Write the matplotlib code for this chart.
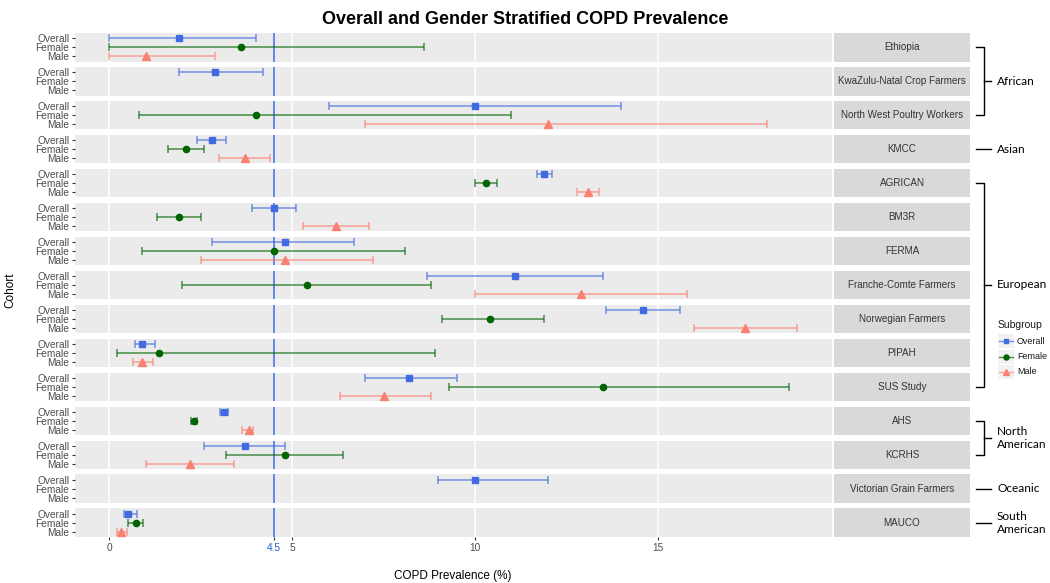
import numpy as np
import matplotlib.pyplot as plt
from matplotlib.lines import Line2D
from matplotlib.patches import Rectangle

plt.rcParams['font.family'] = ['Liberation Sans', 'DejaVu Sans']

nan = np.nan
cohorts = ['Ethiopia', 'KwaZulu-Natal Crop Farmers', 'North West Poultry Workers', 'KMCC',
           'AGRICAN', 'BM3R', 'FERMA', 'Franche-Comte Farmers', 'Norwegian Farmers', 'PIPAH',
           'SUS Study', 'AHS', 'KCRHS', 'Victorian Grain Farmers', 'MAUCO']

overall_est = [1.9, 2.9, 10.0, 2.8, 11.9, 4.5, 4.8, 11.1, 14.6, 0.9, 8.2, 3.13, 3.7, 10.0, 0.52]
overall_lo = [0.0, 1.9, 6.0, 2.4, 11.7, 3.9, 2.8, 8.7, 13.6, 0.7, 7.0, 3.03, 2.6, 9.0, 0.40]
overall_hi = [4.0, 4.2, 14.0, 3.2, 12.1, 5.1, 6.7, 13.5, 15.6, 1.25, 9.5, 3.24, 4.8, 12.0, 0.75]

female_est = [3.6, nan, 4.0, 2.1, 10.3, 1.9, 4.5, 5.4, 10.4, 1.35, 13.5, 2.31, 4.8, nan, 0.72]
female_lo = [0.0, nan, 0.8, 1.6, 10.0, 1.3, 0.9, 2.0, 9.1, 0.2, 9.3, 2.23, 3.2, nan, 0.52]
female_hi = [8.6, nan, 11.0, 2.6, 10.6, 2.5, 8.1, 8.8, 11.9, 8.9, 18.6, 2.41, 6.4, nan, 0.92]

male_est = [1.0, nan, 12.0, 3.7, 13.1, 6.2, 4.8, 12.9, 17.4, 0.88, 7.5, 3.82, 2.2, nan, 0.33]
male_lo = [0.0, nan, 7.0, 3.0, 12.8, 5.3, 2.5, 10.0, 16.0, 0.66, 6.3, 3.62, 1.0, nan, 0.21]
male_hi = [2.9, nan, 18.0, 4.4, 13.4, 7.1, 7.2, 15.8, 18.8, 1.2, 8.8, 3.94, 3.4, nan, 0.48]

subgroups = ['Overall', 'Female', 'Male']
regions = ['African', 'Asian', 'European', 'North\nAmerican', 'Oceanic', 'South\nAmerican']
region_first = [0, 3, 4, 11, 13, 14]
region_last = [2, 3, 10, 12, 13, 14]
reference = 4.5

W, H = 1050, 583
series = [
    (overall_est, overall_lo, overall_hi, '#4169e1', 's', 4.3, 3),
    (female_est, female_lo, female_hi, '#006400', 'o', 4.5, 2),
    (male_est, male_lo, male_hi, '#fa8072', '^', 5.2, 1),
]

fig, axes = plt.subplots(len(cohorts), 1, figsize=(W / 100, H / 100), dpi=100, sharex=True)
fig.subplots_adjust(left=75 / W, right=832 / W, top=1 - 33 / H, bottom=1 - 537 / H, hspace=0.19)

for i, ax in enumerate(axes):
    ax.set_facecolor('#ebebeb')
    for s in ax.spines.values():
        s.set_visible(False)
    for g in [0, 5, 10, 15]:
        ax.axvline(g, color='white', lw=1.1, zorder=0)
    ax.axvline(reference, color='#5b80e8', lw=1.3, zorder=1)
    for est, lo, hi, col, mk, ms, row in series:
        if np.isnan(est[i]):
            continue
        ax.errorbar(est[i], row, xerr=[[est[i] - lo[i]], [hi[i] - est[i]]], fmt='none',
                    ecolor=col, alpha=0.7, capsize=3, elinewidth=1.1, capthick=1.1, zorder=2)
        ax.plot(est[i], row, marker=mk, color=col, ms=ms, ls='none', zorder=3)
    ax.set_ylim(0.4, 3.6)
    ax.set_xlim(-0.94, 19.77)
    ax.set_yticks([3, 2, 1])
    ax.set_yticklabels(subgroups)
    ax.tick_params(axis='y', length=2.5, color='#333333', labelsize=7.3, labelcolor='#4d4d4d', pad=1.5)
    ax.tick_params(axis='x', length=0)
    # facet strip on the right
    ax.add_patch(Rectangle((1.0026, 0), 0.1797, 1, transform=ax.transAxes,
                           facecolor='#d9d9d9', edgecolor='none', clip_on=False))
    ax.text(1.0026 + 0.1797 / 2, 0.5, cohorts[i], transform=ax.transAxes, ha='center',
            va='center', fontsize=7.1, color='#333333')

last = axes[-1]
last.set_xticks([0, 4.5, 5, 10, 15])
last.set_xticklabels(['0', '4.5', '5', '10', '15'])
last.tick_params(axis='x', length=2.5, color='#333333', labelsize=7.3, labelcolor='#4d4d4d', pad=2)
last.get_xticklabels()[1].set_color('#1f66c9')

fig.text(0.5, 1 - 20 / H, 'Overall and Gender Stratified COPD Prevalence',
         ha='center', va='center', fontsize=13, fontweight='bold')
fig.text(453 / W, 1 - 576 / H, 'COPD Prevalence (%)', ha='center', va='center', fontsize=8.5)
fig.text(10 / W, 1 - 290 / H, 'Cohort', ha='center', va='center', fontsize=8.5, rotation=90)

# region brackets
def panel_mid(k):
    p = axes[k].get_position()
    return (p.y0 + p.y1) / 2

for name, a, b in zip(regions, region_first, region_last):
    y0, y1 = panel_mid(a), panel_mid(b)
    ym = (y0 + y1) / 2
    if a == b:
        fig.add_artist(Line2D([976 / W, 991 / W], [ym, ym], color='black', lw=1))
    else:
        fig.add_artist(Line2D([976 / W, 984 / W, 984 / W, 976 / W], [y0, y0, y1, y1],
                              color='black', lw=1))
        fig.add_artist(Line2D([984 / W, 991 / W], [ym, ym], color='black', lw=1))
    fig.text(997 / W, ym, name, ha='left', va='center', fontsize=8.6,
             family=['Lato', 'DejaVu Sans'], linespacing=1.2)

# legend
fig.text(998 / W, 1 - 325 / H, 'Subgroup', ha='left', va='center', fontsize=7.5, color='#1a1a1a')
for k, (est, lo, hi, col, mk, ms, row) in enumerate(series):
    yk = 1 - (341 + 15.5 * k) / H
    fig.add_artist(Rectangle((998 / W, yk - 7 / H), 16 / W, 14 / H, transform=fig.transFigure,
                             facecolor='#f2f2f2', edgecolor='none'))
    fig.add_artist(Line2D([999 / W, 1013 / W], [yk, yk], color=col, lw=1, alpha=0.7))
    fig.add_artist(Line2D([1006 / W], [yk], marker=mk, color=col, ms=ms * 0.8, ls='none'))
    fig.text(1017 / W, yk, subgroups[k], ha='left', va='center', fontsize=6.5, color='#1a1a1a')

fig.savefig('out.png', dpi=100)
